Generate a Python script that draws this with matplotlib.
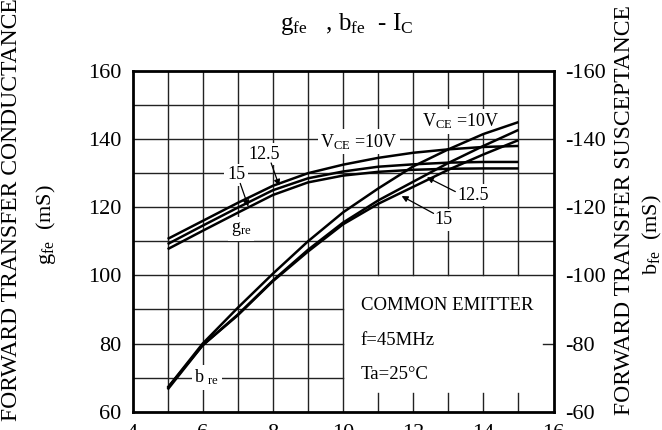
import matplotlib
matplotlib.use("Agg")
import matplotlib.pyplot as plt

plt.rcParams['font.family'] = ['Liberation Serif', 'DejaVu Serif']
plt.rcParams['mathtext.fontset'] = 'custom'
plt.rcParams['mathtext.rm'] = 'Liberation Serif'
plt.rcParams['mathtext.it'] = 'Liberation Serif:italic'
plt.rcParams['axes.unicode_minus'] = False

# collector current I_C (mA)
ic = [5, 6, 7, 8, 9, 10, 11, 12, 13, 14, 15]

# forward transfer conductance g_fe (mS)
gfe_10 = [110.7, 116.0, 121.3, 126.3, 130.0, 132.5, 134.5, 136.0, 137.0, 137.7, 138.0]
gfe_125 = [109.2, 114.6, 119.9, 125.0, 128.5, 130.5, 131.9, 132.6, 133.1, 133.3, 133.3]
gfe_15 = [107.7, 113.1, 118.4, 123.6, 127.3, 129.3, 130.4, 131.0, 131.3, 131.4, 131.4]

# forward transfer susceptance |b_fe| (mS), right axis is negative
bfe_10 = [67.0, 80.0, 90.5, 100.5, 110.0, 118.5, 125.5, 132.0, 137.0, 141.5, 145.0]
bfe_125 = [67.0, 79.5, 88.5, 98.5, 107.5, 115.5, 122.0, 127.5, 133.0, 138.0, 142.7]
bfe_15 = [66.5, 79.5, 88.3, 98.3, 107.0, 115.0, 121.0, 126.0, 131.0, 135.5, 139.7]

x_ticks = [4, 6, 8, 10, 12, 14, 16]
y_ticks = [60, 80, 100, 120, 140, 160]
y2_ticks = [-160, -140, -120, -100, -80, -60]

fig = plt.figure(figsize=(6.62, 4.30), dpi=100)
ax = fig.add_axes([0.2002, 0.0426, 0.6360, 0.7923])
ax.set_xlim(4, 16)
ax.set_ylim(60, 160)

# grid, with the lower-right corner kept free for the conditions box
gc = '#222222'
for gx in range(5, 16):
    if gx <= 10:
        ax.plot([gx, gx], [60, 160], color=gc, lw=1.0, zorder=1)
    else:
        ax.plot([gx, gx], [100, 160], color=gc, lw=1.0, zorder=1)
        ax.plot([gx, gx], [60, 65.4], color=gc, lw=1.0, zorder=1)
for gy in range(70, 160, 10):
    if gy >= 100:
        ax.plot([4, 16], [gy, gy], color=gc, lw=1.0, zorder=1)
    else:
        ax.plot([4, 10], [gy, gy], color=gc, lw=1.0, zorder=1)
ax.plot([15.7, 16], [80, 80], color=gc, lw=1.0, zorder=1)

for s in (gfe_10, gfe_125, gfe_15, bfe_10, bfe_125, bfe_15):
    ax.plot(ic, s, color='black', lw=1.8, zorder=4, solid_capstyle='butt')

for sp in ax.spines.values():
    sp.set_linewidth(2)

ax.set_xticks(x_ticks)
ax.set_yticks(y_ticks)
ax.tick_params(length=0, labelsize=16, pad=8)
ax.tick_params(axis='x', pad=9)

ax2 = ax.twinx()
ax2.set_ylim(-60, -160)
ax2.set_yticks(y2_ticks)
ax2.tick_params(length=0, labelsize=16, pad=8)
for sp in ax2.spines.values():
    sp.set_visible(False)

box = dict(fc='white', ec='none', pad=2)
fs = 13
ax.text(10.45, 139.2, r'V$_{\mathrm{CE}}$ =10V', fontsize=fs, ha='center', va='center', bbox=box, zorder=2)
ax.text(13.35, 145.3, r'V$_{\mathrm{CE}}$ =10V', fontsize=fs, ha='center', va='center', bbox=box, zorder=2)
ax.text(7.75, 135.6, '12.5', fontsize=fs, ha='center', va='center', bbox=box, zorder=2)
ax.text(6.95, 129.5, '15', fontsize=fs, ha='center', va='center', bbox=box, zorder=2)
ax.text(7.1, 113.6, r'g$_{\mathrm{re}}$', fontsize=fs, ha='center', va='center', bbox=box, zorder=2)
ax.text(13.7, 123.6, '12.5', fontsize=fs, ha='center', va='center', bbox=box, zorder=2)
ax.text(12.87, 116.3, '15', fontsize=fs, ha='center', va='center', bbox=box, zorder=2)
ax.text(6.12, 70.0, r'b $_{\mathrm{re}}$', fontsize=fs, ha='center', va='center', bbox=box, zorder=2)

fs2 = 13.5
ax.text(10.5, 91.3, 'COMMON EMITTER', fontsize=fs2, ha='left', va='center')
ax.text(10.5, 81.0, 'f=45MHz', fontsize=fs2, ha='left', va='center')
ax.text(10.5, 70.8, 'Ta=25°C', fontsize=fs2, ha='left', va='center')

arrow = dict(arrowstyle='-|>', color='black', lw=0.9, mutation_scale=9,
             shrinkA=0, shrinkB=0)
ax.annotate('', xy=(8.18, 126.3), xytext=(7.95, 133.0), arrowprops=arrow, zorder=5)
ax.annotate('', xy=(7.3, 120.2), xytext=(7.07, 127.0), arrowprops=arrow, zorder=5)
ax.annotate('', xy=(12.39, 128.8), xytext=(13.2, 124.6), arrowprops=arrow, zorder=5)
ax.annotate('', xy=(11.67, 123.3), xytext=(12.58, 118.2), arrowprops=arrow, zorder=5)

fig.text(0.523, 1 - 24 / 430, r'g$_{\mathrm{fe}}$   , b$_{\mathrm{fe}}$  - I$_{\mathrm{C}}$',
         fontsize=18, ha='center', va='center')

fig.text(12 / 662, 1 - 210 / 430, 'FORWARD TRANSFER CONDUCTANCE', fontsize=17,
         rotation=90, ha='center', va='center')
fig.text(46 / 662, 1 - 225 / 430, r'g$_{\mathrm{fe}}$  (mS)', fontsize=16,
         rotation=90, ha='center', va='center')
fig.text(625 / 662, 1 - 210 / 430, 'FORWARD TRANSFER SUSCEPTANCE', fontsize=17,
         rotation=90, ha='center', va='center')
fig.text(652 / 662, 1 - 235 / 430, r'b$_{\mathrm{fe}}$  (mS)', fontsize=16,
         rotation=90, ha='center', va='center')

fig.savefig('out.png', dpi=100)
